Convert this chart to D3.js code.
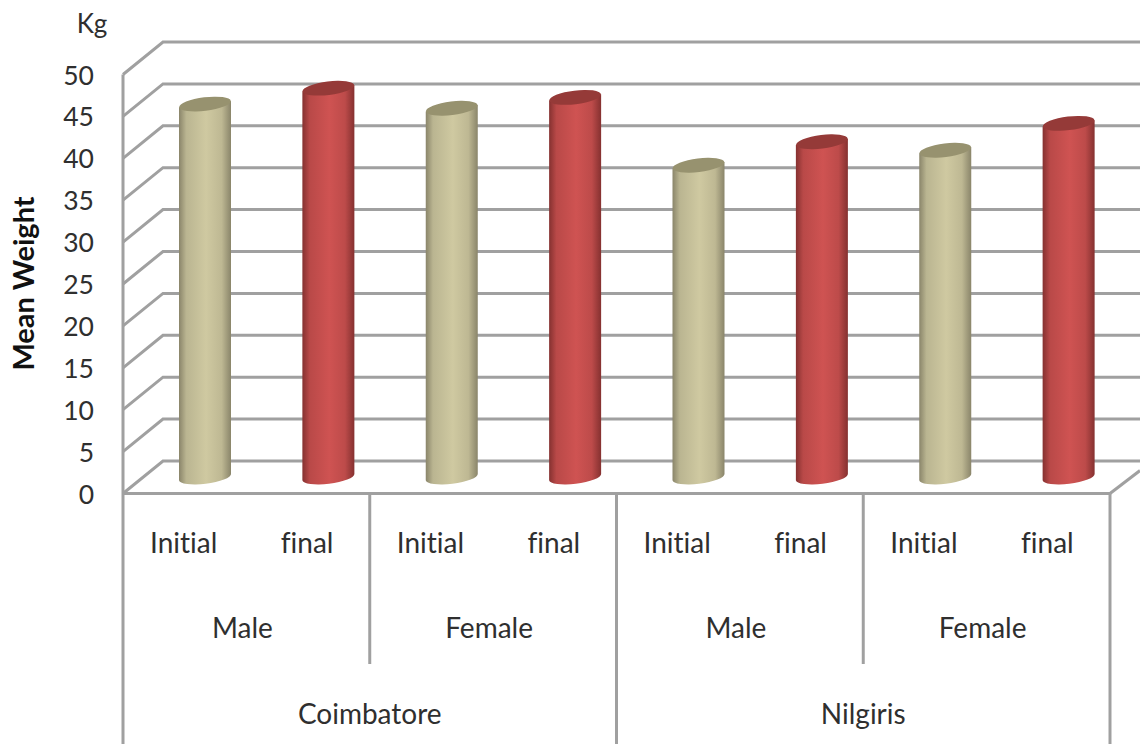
<!DOCTYPE html>
<html>
<head>
<meta charset="utf-8">
<script src="https://cdnjs.cloudflare.com/ajax/libs/d3/7.8.5/d3.min.js"></script>
<style>
html,body{margin:0;padding:0;background:#fff}
svg{display:block}
text{font-family:Lato,"Open Sans",sans-serif;fill:#2f2f2f;font-variant-ligatures:none}
</style>
</head>
<body>
<svg id="chart" width="1140" height="744"></svg>
<script>
// Mean weight by district, sex and measurement stage
const stages = ["Initial","final","Initial","final","Initial","final","Initial","final"];
const sexes = ["Male","Female","Male","Female"];
const districts = ["Coimbatore","Nilgiris"];
const meanWeight = [44.5,46.4,44,45.3,37.2,40,39,42.2];
const yTicks = [0,5,10,15,20,25,30,35,40,45,50];
const stageColors = {Initial:["#8a856a","#cfc9a1","#97926f"],final:["#853130","#cf5352","#953a38"]};

const svg = d3.select("#chart");
const W = 1140;
const depth = {dx:40,dy:-32.5};
const plot = {left:123,right:1110,bottom:493.5,top:74.5};
const gridColor = "#a0a0a0";

const y = d3.scaleLinear().domain([0,50]).range([plot.bottom,plot.top]);
const x = d3.scaleBand().domain(d3.range(stages.length)).range([plot.left,plot.right]);

// Horizontal gridlines on the back wall, with the slanted side wall segments
const grid = svg.append("g").attr("stroke",gridColor).attr("stroke-width",3).attr("fill","none");
yTicks.forEach(t=>{
  grid.append("path").attr("d",d3.line()([
    [plot.left,y(t)],
    [plot.left+depth.dx,y(t)+depth.dy],
    [W,y(t)+depth.dy]
  ]));
});
grid.append("line").attr("x1",plot.left).attr("x2",plot.left).attr("y1",plot.top).attr("y2",744);
grid.append("line").attr("x1",plot.left).attr("x2",plot.right).attr("y1",plot.bottom).attr("y2",plot.bottom);
grid.append("line").attr("x1",plot.right).attr("y1",plot.bottom).attr("x2",W).attr("y2",plot.bottom-23);

// Separators of the three-level category axis
[[2,664],[4,744],[6,664],[8,744]].forEach(([i,end])=>{
  const px = i===8 ? plot.right : x(i);
  grid.append("line").attr("x1",px).attr("x2",px).attr("y1",plot.bottom).attr("y2",end);
});

// Value axis labels
const axis = d3.axisLeft(y).tickValues(yTicks).tickSize(0).tickPadding(0);
const axisG = svg.append("g").attr("transform","translate(94,0)").call(axis);
axisG.select(".domain").remove();
axisG.selectAll("text").attr("font-size",26.5).attr("font-family",null).attr("text-anchor","end").attr("x",0).attr("dy","0.36em");

// Cylinder shading
const defs = svg.append("defs");
Object.entries(stageColors).forEach(([k,c])=>{
  const mix = d3.interpolateRgb(c[0],c[1]);
  const g = defs.append("linearGradient").attr("id","cyl-"+k);
  [[0,c[0]],[0.14,mix(0.7)],[0.52,c[1]],[0.82,mix(0.75)],[1,c[0]]]
    .forEach(([o,col])=>g.append("stop").attr("offset",o).attr("stop-color",col));
});

// Cylinders stand midway between the front edge and the back wall
const barInset = 56;
const barWidth = 52;
const step = x.step();
const cx = i => plot.left + barInset + barWidth/2 + i*step;
const midDy = -16.5;
const rx = barWidth/2, ry = 6.8, tilt = -7;
const tiltRad = tilt*Math.PI/180;
const edgeDy = rx*Math.sin(tiltRad);

const bars = svg.append("g").selectAll("g").data(meanWeight).join("g");
bars.append("path")
  .attr("fill",(d,i)=>`url(#cyl-${stages[i]})`)
  .attr("d",(d,i)=>{
    const c = cx(i), top = y(d)+midDy, bot = y(0)+midDy;
    return `M${c-rx},${top-edgeDy}`+
      `L${c+rx},${top+edgeDy}`+
      `L${c+rx},${bot+edgeDy}`+
      `A${rx/Math.cos(tiltRad)*0.995},${ry} ${tilt} 0 1 ${c-rx},${bot-edgeDy}Z`;
  });
bars.append("ellipse")
  .attr("rx",rx).attr("ry",ry)
  .attr("fill",(d,i)=>stageColors[stages[i]][2])
  .attr("transform",(d,i)=>`translate(${cx(i)},${y(d)+midDy}) rotate(${tilt})`);

// Category labels, one row for each level
const rows = svg.append("g").attr("text-anchor","middle").attr("font-size",28);
stages.forEach((s,i)=>{
  rows.append("text").attr("x",x(i)+x.bandwidth()/2-1).attr("y",553).text(s);
});
sexes.forEach((s,i)=>{
  rows.append("text").attr("x",x(i*2)+x.bandwidth()-4).attr("y",638).text(s);
});
districts.forEach((s,i)=>{
  rows.append("text").attr("x",x(i*4)+2*x.bandwidth()).attr("y",724).text(s);
});

// Axis title and unit
svg.append("text").attr("transform","translate(33.5,283.5) rotate(-90)")
  .attr("text-anchor","middle").attr("font-size",29).attr("font-weight",700).attr("style","fill:#111").text("Mean Weight");
svg.append("text").attr("x",92).attr("y",33).attr("text-anchor","middle").attr("font-size",26).text("Kg");
</script>
</body>
</html>
